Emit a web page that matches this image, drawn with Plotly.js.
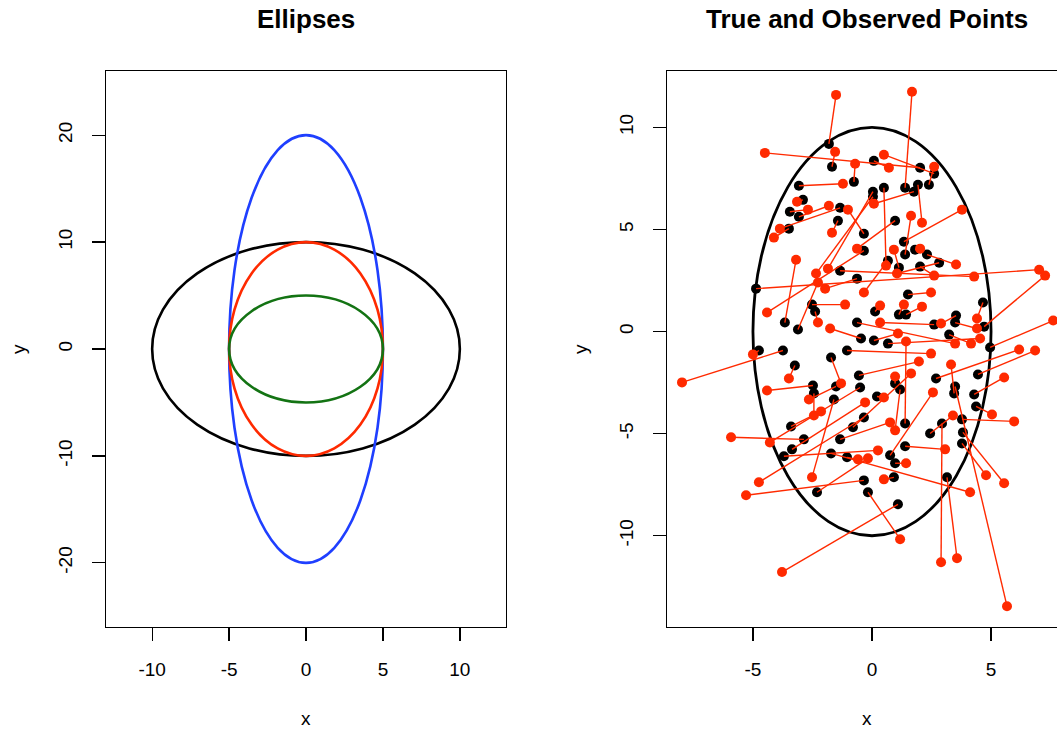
<!DOCTYPE html>
<html><head><meta charset="utf-8">
<script src="https://cdn.plot.ly/plotly-3.0.1.min.js"></script>
<style>html,body{margin:0;padding:0;background:#fff}#chart{width:1057px;height:730px}</style>
</head><body><div id="chart"></div>
<script>
// Left panel: ellipses (semi-axes)
const ellipseRx = [10, 5, 5, 5];
const ellipseRy = [10, 20, 10, 5];
const ellipseColors = ['#000000', '#1f3fff', '#ff2a00', '#137313'];
// Right panel: bounding ellipse
const boundRx = 5, boundRy = 10;

// True (black) and observed (red) points
const trueX = [-1.81,-1.68,-0.76,-3.07,-2.90,-1.34,-3.45,-3.07,-1.43,-3.49,-0.34,0.04,0.08,2.02,2.61,2.39,1.39,1.93,1.76,0.50,0.04,-0.34,0.97,1.34,1.39,1.81,2.31,2.82,2.02,1.13,0.67,-0.63,-1.34,-4.87,1.51,0.13,1.13,1.43,4.66,3.53,3.49,2.61,4.71,3.24,-0.46,0.08,0.67,4.96,-2.52,-2.39,-3.66,-3.11,-0.63,-4.75,-3.74,-3.24,-1.72,-1.05,-0.55,-2.48,-2.44,-1.51,-1.60,-0.50,-0.34,-0.80,-3.40,-2.86,-1.34,-3.36,-3.70,-1.72,-1.05,-0.34,2.69,4.45,3.49,3.45,4.29,4.37,0.21,0.97,1.18,1.39,2.94,3.78,2.44,3.82,3.78,1.39,0.76,0.97,0.92,3.15,-2.31,-0.17,1.09];
const trueY = [9.19,8.07,7.33,7.14,6.45,6.06,5.87,5.62,5.43,5.04,4.79,6.60,8.36,8.02,7.73,7.19,7.04,7.19,6.85,7.04,6.85,3.96,5.43,4.40,3.77,4.01,3.77,3.37,3.18,3.13,3.47,2.59,2.98,2.10,1.81,0.98,0.83,0.83,1.42,0.78,0.44,0.34,0.24,-0.15,-0.34,-0.44,-0.59,-0.78,1.32,0.98,0.44,0.10,0.44,-0.93,-0.93,-1.66,-1.27,-0.93,-2.15,-2.64,-3.03,-2.69,-3.33,-2.74,-4.21,-4.69,-4.65,-5.28,-5.28,-5.77,-6.11,-5.97,-6.16,-7.29,-2.30,-2.10,-2.69,-3.03,-3.08,-3.67,-3.18,-2.54,-2.84,-4.50,-4.50,-4.30,-4.99,-4.94,-5.48,-5.62,-6.06,-6.45,-7.14,-7.14,-7.87,-7.87,-8.46];
const obsX = [-1.51,-1.55,-0.71,-1.22,-3.15,-3.87,-2.69,-1.81,-1.68,-4.12,-1.01,-2.35,0.71,-4.50,0.50,2.61,1.68,2.10,0.08,0.59,-1.85,-4.41,-0.63,3.78,1.64,2.02,3.53,1.05,2.61,0.92,-0.34,-1.97,4.29,7.02,2.48,0.34,1.34,2.10,4.41,2.90,4.41,0.34,7.27,4.16,-1.76,1.09,4.54,7.61,-1.13,-2.27,-3.19,-2.27,3.49,-5.00,-7.98,-3.49,-1.30,2.48,1.97,-4.41,-2.44,-2.65,-2.52,-4.29,-4.75,1.64,-2.14,-5.92,0.76,-0.29,0.25,4.12,-0.59,-5.29,6.18,6.85,5.67,3.32,5.55,5.04,0.50,0.97,0.97,1.43,2.90,5.97,3.40,5.55,4.79,3.07,2.56,1.43,0.50,3.57,-0.17,1.18,-3.78];
const obsY = [11.59,8.80,8.22,7.24,6.36,5.04,5.97,6.16,4.84,4.60,5.97,2.84,8.02,8.75,8.66,8.07,11.74,5.33,6.26,3.23,3.08,0.93,4.06,5.97,5.67,4.06,3.28,2.84,2.74,4.01,1.91,2.10,2.69,3.03,1.91,1.27,1.32,1.22,0.64,0.39,0.15,0.44,2.74,-0.59,0.15,-0.10,-0.34,0.54,1.32,0.44,3.52,2.40,-0.59,-1.12,-2.49,-2.30,-2.54,-1.08,-1.47,-2.89,-4.11,-3.33,-7.14,-5.43,-7.38,-2.05,-3.91,-5.18,-4.45,-3.47,-5.82,-7.87,-6.26,-8.02,-0.88,-0.93,-13.45,-1.61,-2.25,-4.06,-3.23,-2.20,-4.84,-0.49,-11.30,-4.40,-4.11,-7.43,-7.04,-5.77,-2.98,-6.45,-7.24,-11.10,-6.21,-10.17,-11.78];

const leftXTicks = [-10, -5, 0, 5, 10];
const leftYTicks = [-20, -10, 0, 10, 20];
const rightXTicks = [-5, 0, 5];
const rightYTicks = [-10, -5, 0, 5, 10];

const FONT = 'Liberation Sans, Arial, Helvetica, sans-serif';
const RED = '#ff2a00';

// segments trace built from the point arrays
const segX = [], segY = [];
for (let i = 0; i < trueX.length; i++) {
  segX.push(trueX[i], obsX[i], null);
  segY.push(trueY[i], obsY[i], null);
}

const traces = [
  {x: [], y: [], xaxis: 'x', yaxis: 'y', type: 'scatter', mode: 'markers', showlegend: false, hoverinfo: 'skip'},
  {x: trueX, y: trueY, xaxis: 'x2', yaxis: 'y2', type: 'scatter', mode: 'markers',
   marker: {color: '#000', size: 10}, showlegend: false, name: 'True'},
  {x: segX, y: segY, xaxis: 'x2', yaxis: 'y2', type: 'scatter', mode: 'lines',
   line: {color: RED, width: 1.4}, connectgaps: false, showlegend: false, hoverinfo: 'skip'},
  {x: obsX, y: obsY, xaxis: 'x2', yaxis: 'y2', type: 'scatter', mode: 'markers',
   marker: {color: RED, size: 10}, showlegend: false, name: 'Observed'}
];

const shapes = [];
for (let i = 0; i < ellipseRx.length; i++) {
  shapes.push({type: 'circle', xref: 'x', yref: 'y', x0: -ellipseRx[i], x1: ellipseRx[i],
    y0: -ellipseRy[i], y1: ellipseRy[i], line: {color: ellipseColors[i], width: 2.6}, layer: 'above'});
}
shapes.push({type: 'circle', xref: 'x2', yref: 'y2', x0: -boundRx, x1: boundRx,
  y0: -boundRy, y1: boundRy, line: {color: '#000', width: 2.8}, layer: 'below'});

function ax(ticks, extra) {
  return Object.assign({
    showline: true, linecolor: '#000', linewidth: 1.3, mirror: true,
    ticks: 'outside', ticklen: 13, tickwidth: 1.3, tickcolor: '#000',
    showgrid: false, zeroline: false, tickmode: 'array',
    tickvals: ticks, ticktext: ticks.map(v => String(v)),
    tickfont: {family: FONT, size: 19, color: '#000'},
    ticklabelstandoff: 12
  }, extra);
}

const yTop = 1 - 71 / 730, yBot = 1 - 627 / 730;

const layout = {
  width: 1057, height: 730,
  margin: {l: 0, r: 0, t: 0, b: 0},
  paper_bgcolor: '#fff', plot_bgcolor: '#fff',
  font: {family: FONT, color: '#000'},
  showlegend: false,
  xaxis: ax(leftXTicks, {domain: [106 / 1057, 506 / 1057], range: [-13, 13], anchor: 'y'}),
  yaxis: ax(leftYTicks, {domain: [yBot, yTop], range: [-26, 26], anchor: 'x', tickangle: -90}),
  xaxis2: ax(rightXTicks, {domain: [667 / 1057, 1], range: [-8.61, 7.77], anchor: 'y2'}),
  yaxis2: ax(rightYTicks, {domain: [yBot, yTop], range: [-14.47, 12.76], anchor: 'x2', tickangle: -90, mirror: false}),
  shapes: shapes,
  annotations: [
    {text: '<b>Ellipses</b>', xref: 'paper', yref: 'paper', x: 306 / 1057, y: 1 - 19 / 730,
     xanchor: 'center', yanchor: 'middle', showarrow: false, font: {family: FONT, size: 26, color: '#000'}},
    {text: '<b>True and Observed Points</b>', xref: 'paper', yref: 'paper', x: 867 / 1057, y: 1 - 19 / 730,
     xanchor: 'center', yanchor: 'middle', showarrow: false, font: {family: FONT, size: 26, color: '#000'}},
    {text: 'x', xref: 'paper', yref: 'paper', x: 306 / 1057, y: 1 - 718 / 730,
     xanchor: 'center', yanchor: 'middle', showarrow: false, font: {family: FONT, size: 19, color: '#000'}},
    {text: 'x', xref: 'paper', yref: 'paper', x: 867 / 1057, y: 1 - 718 / 730,
     xanchor: 'center', yanchor: 'middle', showarrow: false, font: {family: FONT, size: 19, color: '#000'}},
    {text: 'y', xref: 'paper', yref: 'paper', x: 18 / 1057, y: 1 - 349 / 730, textangle: -90,
     xanchor: 'center', yanchor: 'middle', showarrow: false, font: {family: FONT, size: 19, color: '#000'}},
    {text: 'y', xref: 'paper', yref: 'paper', x: 580 / 1057, y: 1 - 349 / 730, textangle: -90,
     xanchor: 'center', yanchor: 'middle', showarrow: false, font: {family: FONT, size: 19, color: '#000'}}
  ]
};

Plotly.newPlot('chart', traces, layout, {staticPlot: true, displayModeBar: false});
</script></body></html>
